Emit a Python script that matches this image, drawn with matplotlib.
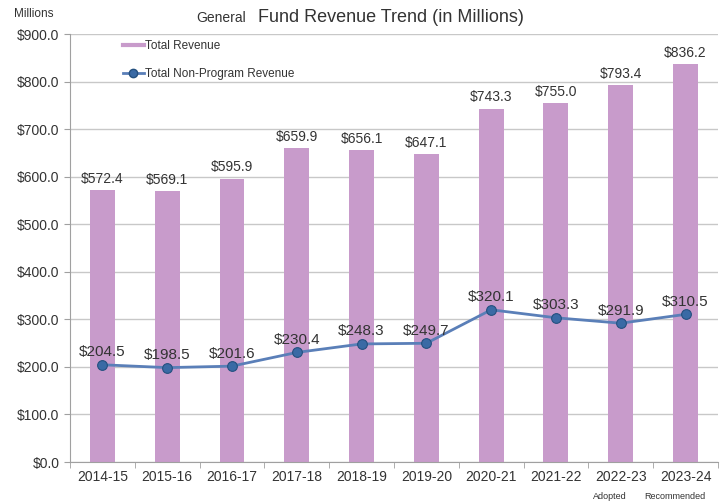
import matplotlib.pyplot as plt
from matplotlib.lines import Line2D
from matplotlib.ticker import FuncFormatter, MultipleLocator

plt.rcParams['font.family'] = ['Liberation Sans', 'DejaVu Sans']

years = ["2014-15", "2015-16", "2016-17", "2017-18", "2018-19",
         "2019-20", "2020-21", "2021-22", "2022-23", "2023-24"]
total_revenue = [572.4, 569.1, 595.9, 659.9, 656.1, 647.1, 743.3, 755.0, 793.4, 836.2]
non_program = [204.5, 198.5, 201.6, 230.4, 248.3, 249.7, 320.1, 303.3, 291.9, 310.5]
sub_labels = {8: "Adopted", 9: "Recommended"}

bar_color = "#C89BCB"
line_color = "#5A7FB8"
marker_color = "#3A6AA5"
text_color = "#333333"

fig = plt.figure(figsize=(7.23, 5.04), dpi=100)
ax = fig.add_axes([0.0968, 0.0833, 0.8962, 0.8492])

x = list(range(len(years)))
ax.bar(x, total_revenue, width=0.385, color=bar_color, zorder=2)
ax.plot(x, non_program, color=line_color, lw=2, marker="o", markersize=7,
        markerfacecolor=marker_color, markeredgecolor="#24507F", markeredgewidth=0.8, zorder=3)

# value labels
for i, v in enumerate(total_revenue):
  ax.annotate(f"${v:.1f}", (i, v), xytext=(0, 3), textcoords="offset points",
              ha="center", va="bottom", fontsize=10, color=text_color, zorder=4)
for i, v in enumerate(non_program):
  ax.annotate(f"${v:.1f}", (i, v), xytext=(0, 4), textcoords="offset points",
              ha="center", va="bottom", fontsize=11, color=text_color, zorder=4)

ax.set_xlim(-0.5, len(years) - 0.5)
ax.set_ylim(0, 900)
ax.yaxis.set_major_locator(MultipleLocator(100))
ax.yaxis.set_major_formatter(FuncFormatter(lambda v, p: f"${v:.1f}"))
ax.set_xticks(x)
ax.set_xticklabels(years)
ax.set_xticks([i - 0.5 for i in range(len(years) + 1)], minor=True)
ax.tick_params(axis="x", which="major", length=0, labelsize=10, labelcolor=text_color, pad=6)
ax.tick_params(axis="x", which="minor", length=4, color="#A0A0A0", direction="out")
ax.tick_params(axis="y", length=4, color="#A0A0A0", labelsize=10, labelcolor=text_color)
ax.grid(axis="y", color="#C8C8C8", lw=1, zorder=0)
ax.set_axisbelow(True)
for s in ["top", "right"]:
  ax.spines[s].set_visible(False)
for s in ["left", "bottom"]:
  ax.spines[s].set_color("#A0A0A0")

for i, lab in sub_labels.items():
  ax.text(i - 0.17, -0.08, lab, transform=ax.get_xaxis_transform(),
          ha="center", va="center", fontsize=6.5, color=text_color)

handles = [Line2D([], [], color=bar_color, lw=3),
           Line2D([], [], color=line_color, lw=2, marker="o", markersize=6,
                  markerfacecolor=marker_color, markeredgecolor="#24507F")]
ax.legend(handles, ["Total Revenue", "Total Non-Program Revenue"], loc="upper left",
          bbox_to_anchor=(0.065, 1.01), frameon=False, fontsize=8.5, handlelength=1.8,
          handletextpad=0.1, labelspacing=1.3, labelcolor=text_color)

fig.text(0.02, 0.972, "Millions", fontsize=8.5, color=text_color, va="center")
fig.text(0.272, 0.965, "General", fontsize=10, color=text_color, va="center")
fig.text(0.357, 0.965, "Fund Revenue Trend (in Millions)", fontsize=13, color=text_color, va="center")

fig.savefig("out.png", dpi=100)
